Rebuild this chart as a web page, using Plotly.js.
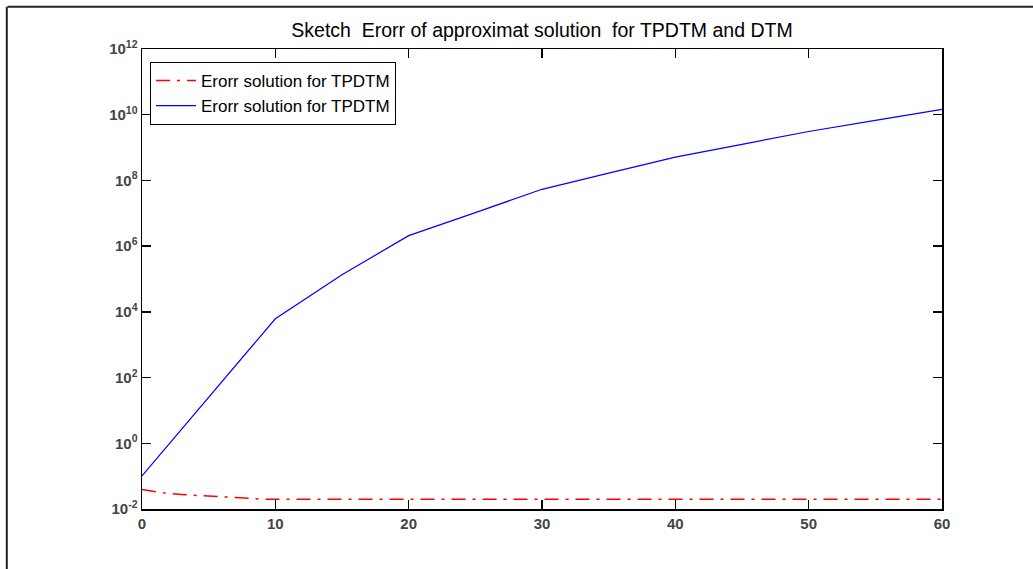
<!DOCTYPE html>
<html>
<head>
<meta charset="utf-8">
<script src="https://cdn.plot.ly/plotly-3.0.1.min.js"></script>
<style>
html,body{margin:0;padding:0;background:#fff;}
#chart{width:1033px;height:569px;}
</style>
</head>
<body>
<div id="chart"></div>
<script>
// Data (values, not log exponents)
const xBlue = [0, 10, 15, 20, 25, 30, 35, 40, 45, 50, 55, 60];
const logBlue = [-0.99, 3.79, 5.13, 6.32, 7.02, 7.73, 8.22, 8.71, 9.10, 9.49, 9.83, 10.16];
const yBlue = logBlue.map(v => Math.pow(10, v));

const xRed = [0, 1, 2, 3, 4, 5, 6, 7, 8, 9, 10, 20, 30, 40, 50, 60];
const logRed = [-1.41, -1.48, -1.53, -1.56, -1.59, -1.61, -1.63, -1.65, -1.68, -1.70, -1.70, -1.70, -1.70, -1.70, -1.70, -1.70];
const yRed = logRed.map(v => Math.pow(10, v));

const xTicks = [0, 10, 20, 30, 40, 50, 60];
const yTickExp = [-2, 0, 2, 4, 6, 8, 10, 12];
const yTickVals = yTickExp.map(e => Math.pow(10, e));
const yTickText = yTickExp.map(e => '10<sup>' + e + '</sup>');

const seriesNames = ['Erorr solution for TPDTM', 'Erorr solution for TPDTM'];
const titleText = 'Sketch  Erorr of approximat solution  for TPDTM and DTM';

const fontFam = '"Liberation Sans", Arial, sans-serif';

const traces = [
  {x: xRed, y: yRed, type: 'scatter', mode: 'lines', name: seriesNames[0],
   line: {color: '#ff0000', width: 1.5, dash: '14px,7px,3px,7px'}},
  {x: xBlue, y: yBlue, type: 'scatter', mode: 'lines', name: seriesNames[1],
   line: {color: '#0000ff', width: 1.2}}
];

const layout = {
  width: 1033, height: 569,
  paper_bgcolor: '#ffffff', plot_bgcolor: '#ffffff',
  margin: {l: 142, r: 91, t: 49, b: 60},
  title: {text: titleText, x: 0.5, xref: 'paper', y: 0.947, yanchor: 'middle',
          font: {family: fontFam, size: 19.5, color: '#000'}},
  showlegend: true,
  legend: {x: 0.01, y: 0.972, xanchor: 'left', yanchor: 'top',
           bgcolor: '#ffffff', bordercolor: '#000', borderwidth: 1,
           font: {family: fontFam, size: 17, color: '#000'},
           tracegroupgap: 0, itemwidth: 40},
  xaxis: {range: [0, 60], tickvals: xTicks, ticktext: xTicks.map(String),
          ticks: 'inside', ticklen: 9, tickcolor: '#000', tickwidth: 1.5,
          showline: true, linecolor: '#000', linewidth: 1.5, mirror: 'ticks',
          showgrid: false, zeroline: false,
          tickfont: {family: fontFam, size: 15, color: '#444', weight: 'bold'}},
  yaxis: {type: 'log', range: [-2, 12], tickvals: yTickVals, ticktext: yTickText,
          ticks: 'inside', ticklen: 9, tickcolor: '#000', tickwidth: 1.5,
          showline: true, linecolor: '#000', linewidth: 1.5, mirror: 'ticks',
          showgrid: false, zeroline: false,
          tickfont: {family: fontFam, size: 15, color: '#444', weight: 'bold'}},
  shapes: [
    {type: 'line', xref: 'paper', yref: 'paper', x0: -0.168, x1: 1.2, y0: 1.092, y1: 1.092,
     line: {color: '#222', width: 2}},
    {type: 'line', xref: 'paper', yref: 'paper', x0: -0.169, x1: -0.169, y0: 1.092, y1: -0.2,
     line: {color: '#222', width: 2}}
  ]
};

Plotly.newPlot('chart', traces, layout, {displayModeBar: false, staticPlot: true});
</script>
</body>
</html>
